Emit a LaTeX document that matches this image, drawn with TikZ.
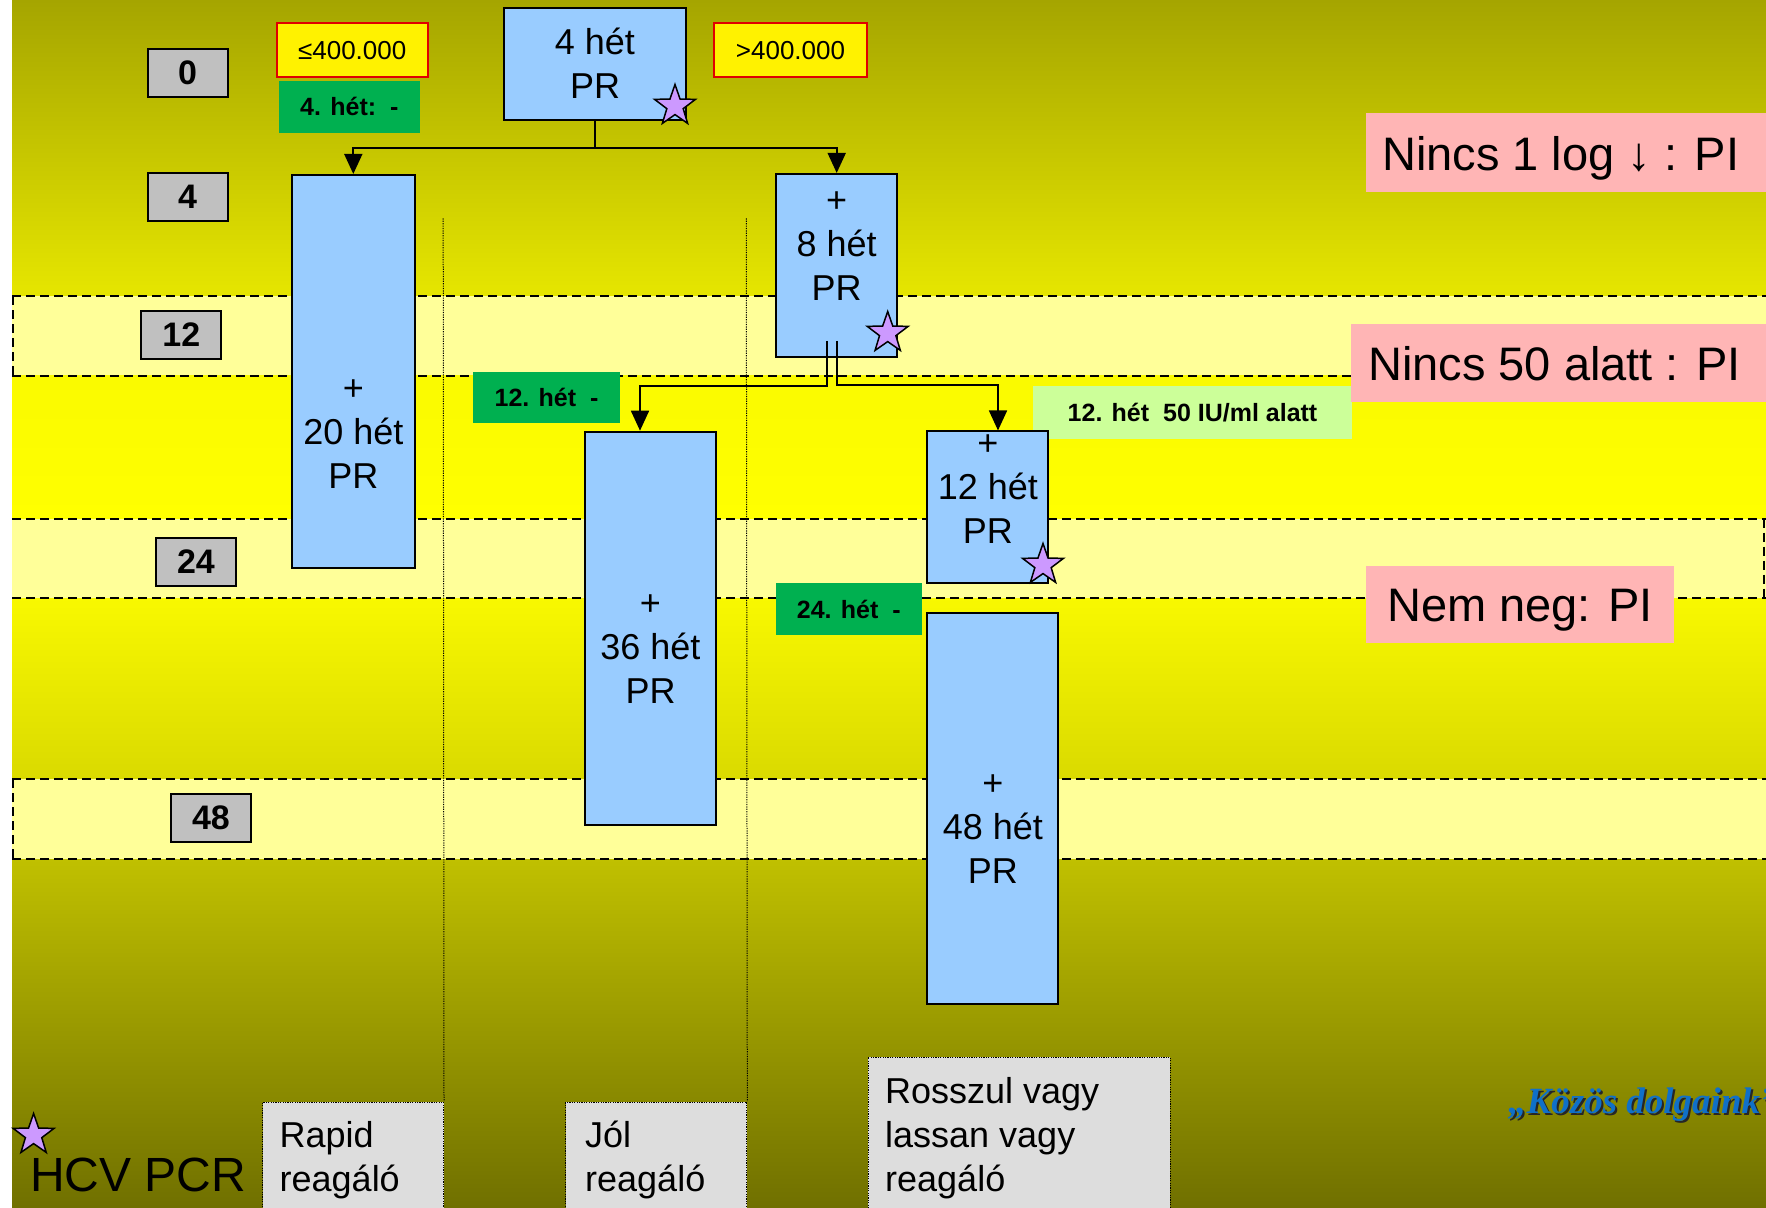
\documentclass[tikz,border=0pt]{standalone}
\usepackage{fontspec}
\setmainfont{Liberation Sans}
\newfontfamily\kozosfont{Liberation Serif}
\usetikzlibrary{shapes.geometric,arrows.meta,calc}
\definecolor{bluec}{HTML}{99CCFF}
\definecolor{starc}{HTML}{CC99FF}
\definecolor{pinkc}{HTML}{FFB5B5}
\definecolor{greenc}{HTML}{00B050}
\definecolor{lgreenc}{HTML}{CCFF99}
\definecolor{grayc}{HTML}{C0C0C0}
\definecolor{boxgray}{HTML}{DDDDDD}
\definecolor{bandc}{HTML}{FFFF99}
\definecolor{redc}{HTML}{E00000}
\definecolor{kozosc}{HTML}{1070C8}
\definecolor{bgA}{HTML}{A5A500}
\definecolor{bgB}{HTML}{E6E600}
\definecolor{bgC}{HTML}{FAFA00}
\definecolor{bgD}{HTML}{FFFF00}
\definecolor{bgE}{HTML}{F8F800}
\definecolor{bgF}{HTML}{DADA00}
\definecolor{bgG}{HTML}{C0C000}
\definecolor{bgH}{HTML}{707000}
\newcommand\mystackc[1]{\begin{tabular}[t]{@{}c@{}}#1\end{tabular}}
\newcommand\mystackl[1]{\begin{tabular}[t]{@{}l@{}}#1\end{tabular}}
\begin{document}
\begin{tikzpicture}[x=1pt,y=-1pt,
  dline/.style={draw=black,line width=2pt,dash pattern=on 9pt off 5pt},
  vdot/.style={draw=black,line width=1pt,dash pattern=on 1.2pt off 1.2pt},
  bbox/.style={draw=black,line width=2pt,fill=bluec,inner sep=0pt},
  nbox/.style={draw=black,line width=2pt,fill=grayc,inner sep=0pt,font=\fontsize{34}{40}\selectfont\bfseries},
  ybox/.style={draw=redc,line width=1.8pt,fill=yellow,inner sep=0pt,font=\fontsize{26}{30}\selectfont},
  gbox/.style={fill=greenc,inner sep=0pt,font=\fontsize{25}{30}\selectfont\bfseries},
  lgbox/.style={fill=lgreenc,inner sep=0pt,font=\fontsize{25}{30}\selectfont\bfseries},
  pbox/.style={fill=pinkc,inner sep=0pt},
  rbox/.style={draw=black,line width=1pt,dash pattern=on 1.2pt off 1.2pt,fill=boxgray,inner sep=0pt},
  btxt/.style={inner sep=0pt,anchor=base,font=\fontsize{36}{44}\selectfont},
  ltxt/.style={inner sep=0pt,anchor=base west,font=\fontsize{36}{44}\selectfont},
  ptxt/.style={inner sep=0pt,anchor=base west,font=\fontsize{47}{56}\selectfont},
  conn/.style={draw=black,line width=1.7pt},
  arr/.style={conn,-{Triangle[length=20pt,width=18pt]}},
  starn/.style={star,star points=5,star point ratio=2.5,minimum size=43pt,inner sep=0pt,draw=black,line width=1.5pt,fill=starc},
]
\useasboundingbox (0,0) rectangle (1766,1207);
\clip (0,0) rectangle (1766,1207);
% background
\fill[white] (0,0) rectangle (1766,1207);
\shade[top color=bgA,bottom color=bgB] (12,0) rectangle (1766,296);
\shade[top color=bgC,bottom color=bgD] (12,375) rectangle (1766,519);
\shade[top color=bgE,bottom color=bgF] (12,598) rectangle (1766,779);
\shade[top color=bgG,bottom color=bgH] (12,859) rectangle (1766,1207);
% bands
\fill[bandc] (12,296) rectangle (1766,375);
\fill[bandc] (12,519) rectangle (1766,598);
\fill[bandc] (12,779) rectangle (1766,859);
\draw[dline] (12,296) -- (1766,296);
\draw[dline] (12,375.5) -- (1766,375.5);
\draw[dline] (12.5,296) -- (12.5,375.5);
\draw[dline] (12,518.5) -- (1766,518.5);
\draw[dline] (12,598.3) -- (1766,598.3);
\draw[dline] (1764,518.5) -- (1764,598.3);
\draw[dline] (12,779.3) -- (1766,779.3);
\draw[dline] (12,859.3) -- (1766,859.3);
\draw[dline] (12.5,779.3) -- (12.5,859.3);
% bottom boxes
\node[rbox,anchor=north west,minimum width=180.7pt,minimum height=130pt] (r1) at (262.3,1101.7) {};
\node[rbox,anchor=north west,minimum width=180.9pt,minimum height=130pt] (r2) at (565.4,1101.7) {};
\node[rbox,anchor=north west,minimum width=302pt,minimum height=175pt] (r3) at (867.5,1056.7) {};
\draw[vdot] (443.2,218.3) -- (r1.north east);
\draw[vdot] (746.3,218.3) -- (r2.north east);
% number boxes
\node[nbox,minimum width=80pt,minimum height=48pt] (n0) at (187.7,73.2) {0};
\node[nbox,minimum width=80pt,minimum height=48pt] (n4) at (187.7,197.3) {4};
\node[nbox,minimum width=80pt,minimum height=48pt] (n12) at (181.3,335) {12};
\node[nbox,minimum width=80pt,minimum height=48pt] (n24) at (196,561.7) {24};
\node[nbox,minimum width=80pt,minimum height=48pt] (n48) at (211,818.2) {48};
% threshold boxes
\node[ybox,minimum width=151pt,minimum height=54pt] (le) at (352.2,50.3) {≤400.000};
\node[ybox,minimum width=152.4pt,minimum height=54pt] (gt) at (790.5,50.3) {>400.000};
% green labels
\node[gbox,minimum width=140.6pt,minimum height=51.7pt] (g4) at (349.3,106.9) {4. hét:\ \ -};
\node[gbox,minimum width=147pt,minimum height=51pt] (g12) at (546.5,397.1) {12. hét\ \ -};
\node[gbox,minimum width=145.7pt,minimum height=52pt] (g24) at (848.8,609) {24. hét\ \ -};
\node[lgbox,minimum width=319pt,minimum height=53pt] (lg) at (1192.5,412.5) {12. hét\ \ 50 IU/ml alatt};
% pink boxes
\node[pbox,anchor=north west,minimum width=430pt,minimum height=79pt] (p1) at (1366,113) {};
\node[pbox,anchor=north west,minimum width=430pt,minimum height=77.7pt] (p2) at (1351,324) {};
\node[pbox,minimum width=307.2pt,minimum height=77.3pt] (p3) at (1520,604.7) {};
\node[ptxt] (pt1) at (1382,170.7) {Nincs 1 log ↓ : PI};
\node[ptxt] (pt2) at (1368,380) {Nincs 50 alatt : PI};
\node[ptxt,anchor=base] (pt3) at (1520,621.7) {Nem neg: PI};
% blue boxes
\node[bbox,minimum width=182pt,minimum height=111.7pt] (b4) at (595,64.2) {};
\node[bbox,minimum width=123.4pt,minimum height=392.7pt] (b20) at (353.3,371.3) {};
\node[bbox,minimum width=121.3pt,minimum height=182.7pt] (b8) at (836.7,265.3) {};
\node[bbox,minimum width=130.4pt,minimum height=392.8pt] (b36) at (650.5,628.1) {};
\node[bbox,minimum width=121pt,minimum height=151.1pt] (b12) at (987.8,507) {};
\node[bbox,minimum width=131pt,minimum height=390.6pt] (b48) at (992.8,808.3) {};
\node[btxt] (t4) at (595,55) {\mystackc{4 hét\\PR}};
\node[btxt] (t20) at (353.3,400) {\mystackc{+\\20 hét\\PR}};
\node[btxt] (t8) at (836.7,212.5) {\mystackc{+\\8 hét\\PR}};
\node[btxt] (t36) at (650.5,615) {\mystackc{+\\36 hét\\PR}};
\node[btxt] (t12) at (987.8,455) {\mystackc{+\\12 hét\\PR}};
\node[btxt] (t48) at (992.8,795) {\mystackc{+\\48 hét\\PR}};
% connectors
\coordinate (j1) at ($(b4.south)+(0,27)$);
\draw[conn] (b4.south) -- (j1);
\draw[arr] (j1) -| (b20.north);
\draw[arr] (j1) -| (b8.north);
\coordinate (s1) at ($(b8.south)+(-10,-16.7)$);
\coordinate (s2) at ($(b8.south)+(0,-16.7)$);
\coordinate (e36) at (b36.north -| 640,0);
\coordinate (e12) at (b12.north -| 998,0);
\draw[arr] (s1) |- ($(e36)+(0,-45)$) -- (e36);
\draw[arr] (s2) |- ($(e12)+(0,-45.5)$) -- (e12);
% stars
\node[starn] (s4) at (675,106) {};
\node[starn] (s8) at (887.7,333) {};
\node[starn] (s12) at (1043,565) {};
\node[starn] (sl) at (33.6,1135) {};
% bottom texts
\node[inner sep=0pt,anchor=base west,font=\fontsize{48}{56}\selectfont] (hcv) at (30,1191.5) {HCV PCR};
\node[ltxt] (tr1) at (279.5,1147) {\mystackl{Rapid\\reagáló}};
\node[ltxt] (tr2) at (585,1147) {\mystackl{Jól\\reagáló}};
\node[ltxt] (tr3) at (885,1103) {\mystackl{Rosszul vagy\\lassan vagy\\reagáló}};
\node[inner sep=0pt,anchor=base west,text=black!85,font=\kozosfont\fontsize{37}{44}\selectfont\bfseries\itshape] (ksh) at (1510,1115) {„Közös dolgaink”};
\node[inner sep=0pt,anchor=base west,text=kozosc,font=\kozosfont\fontsize{37}{44}\selectfont\bfseries\itshape] (kz) at (1508,1113) {„Közös dolgaink”};
\end{tikzpicture}
\end{document}
